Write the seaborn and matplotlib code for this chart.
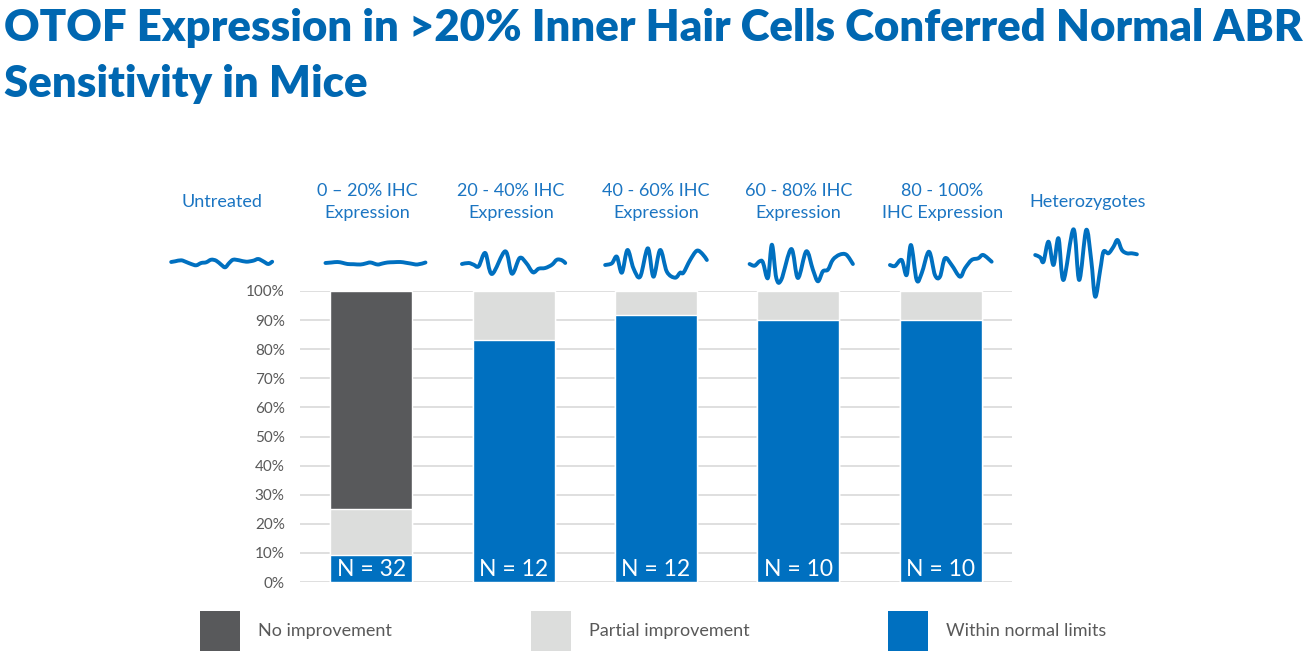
import numpy as np
import pandas as pd
import matplotlib
matplotlib.use("Agg")
import matplotlib.pyplot as plt
import matplotlib.transforms as mtransforms
from matplotlib.patches import Patch, PathPatch
from matplotlib.path import Path
import seaborn as sns

# ---------------- data ----------------
groups = ["0-20", "20-40", "40-60", "60-80", "80-100"]
n_labels = ["N = 32", "N = 12", "N = 12", "N = 10", "N = 10"]
within_normal = [9.4, 83.3, 91.7, 90.0, 90.0]
partial = [15.6, 16.7, 8.3, 10.0, 10.0]
no_improvement = [75.0, 0.0, 0.0, 0.0, 0.0]

column_labels = ["Untreated", "0 \u2013 20% IHC\nExpression", "20 - 40% IHC\nExpression",
                 "40 - 60% IHC\nExpression", "60 - 80% IHC\nExpression",
                 "80 - 100%\nIHC Expression", "Heterozygotes"]
legend_labels = ["No improvement", "Partial improvement", "Within normal limits"]
yticks = [0, 10, 20, 30, 40, 50, 60, 70, 80, 90, 100]

# ABR waveform traces (x offset px, amplitude px)
wave_untreated_x = [0, 4, 10, 15, 20, 25, 30, 35, 40, 45, 50, 54, 58, 62, 68, 75, 82, 87, 92, 97, 101]
wave_untreated_y = [0, 0.7, 1.7, 0, -2, -3.3, -1, -0.3, 2.3, 1.3, -2.7, -5.3, -1, 2.3, 1.7, 0.3, 1.3, 3, 0.7, -2, 0.3]
wave_0_20_x = [0, 6, 12, 17, 22, 28, 35, 40, 45, 52, 57, 62, 68, 75, 80, 85, 92, 100]
wave_0_20_y = [0, 0.5, 1, 0.2, -1, -1.2, -1.5, -0.5, 0.5, -1.5, -0.5, 0.5, 0.8, 1, 0.3, -0.5, -1.5, 0.5]
wave_20_40_x = [0, 6.7, 11.7, 16.7, 23.3, 30, 43.3, 50, 57.7, 64.3, 71, 76.7, 83.3, 90, 95, 100, 103.3]
wave_20_40_y = [0, 1, -0.7, -2.3, 11, -10, 12.7, -9.7, 6, 1, -8.3, -4.7, -4, -0.7, 4.3, 3.7, 1]
wave_40_60_x = [0, 6.7, 11.7, 16.7, 22.3, 28.3, 35, 42.7, 48.3, 55, 61.7, 70, 75, 78.3, 85, 91.7, 97.3, 101.7]
wave_40_60_y = [0, 1.7, 8.3, -7.7, 15, -3.3, -11.7, 16.7, -11.7, 15, -6.7, -12.7, -7.7, -7.7, 5, 14.3, 11, 5]
wave_60_80_x = [0, 5, 10, 13.3, 18.3, 22.3, 26.7, 31.7, 41.7, 48.3, 56.7, 63.3, 68.3, 73.3, 78.3, 83.3, 90, 96.7, 103.3]
wave_60_80_y = [0, -1.7, 2.7, 1.7, -14, 19.3, -14, -15.7, 15, -14, 12.7, -5.7, -17.3, -7.3, -5.7, 4.3, 9.3, 9.3, 0]
wave_80_100_x = [0, 5, 11.7, 16.7, 21, 26.7, 31.7, 39, 45, 50, 55, 61.7, 70, 75, 81.7, 88.3, 93.3, 101.7]
wave_80_100_y = [0, -1, 5, -10, 20, -15, -8.3, 13.3, -10, -11.7, 6.7, 0, -11.7, -3.3, 5, 6.7, 10, 3.3]
wave_het_x = [0, 5, 8.3, 13.3, 18.3, 23.3, 28.3, 38.3, 44, 51, 56, 60, 65, 68.3, 73.3, 78.3, 82.3, 86.7, 91.7, 96.7, 101.7]
wave_het_y = [0, -2.3, -6.7, 13.3, -10, 16.7, -25, 25.7, -25, 25, -5, -41.7, -15, 3.3, 1.7, 8.3, 15, 5, 1.7, 1.7, 0.7]

# ---------------- style ----------------
sns.set_theme(style="white")
plt.rcParams["font.family"] = ["Lato", "DejaVu Sans"]

C_DARK = "#58595B"
C_LIGHT = "#DCDDDC"
C_BLUE = "#0070C0"
C_TEXT_BLUE = "#1B75C2"
C_TITLE = "#0067B1"
C_GRAY_TXT = "#595959"

fig = plt.figure(figsize=(13.12, 6.64), dpi=100)
ax = fig.add_axes([300 / 1312, 82 / 664, 712 / 1312, 291 / 664])

df = pd.DataFrame({
    "group": groups,
    "total": [a + b + c for a, b, c in zip(within_normal, partial, no_improvement)],
    "partial_cum": [a + b for a, b in zip(within_normal, partial)],
    "within": within_normal,
})

bw = 0.575
sns.barplot(data=df, x="group", y="total", order=groups, color=C_DARK, width=bw,
            saturation=1, ax=ax, zorder=2)
sns.barplot(data=df, x="group", y="partial_cum", order=groups, color=C_LIGHT, width=bw,
            saturation=1, ax=ax, zorder=3)
sns.barplot(data=df, x="group", y="within", order=groups, color=C_BLUE, width=bw,
            saturation=1, ax=ax, zorder=4)

ax.set_xlim(-0.5, 4.5)
ax.set_ylim(0, 100)
ax.set_yticks(yticks)
ax.set_yticklabels([f"{t}%" for t in yticks])
ax.tick_params(axis="y", length=0, pad=11, labelsize=11, labelcolor=C_GRAY_TXT)
ax.set_xticks([])
ax.set_xlabel("")
ax.set_ylabel("")
ax.grid(axis="y", color="#D9D9D9", linewidth=1.2, zorder=0)
ax.set_axisbelow(True)
for s in ax.spines.values():
    s.set_visible(False)

for i, lab in enumerate(n_labels):
    ax.text(i, 4.4, lab, ha="center", va="center", color="white", fontsize=16.5, zorder=6)

# column header labels
col_pos = [-1.05, -0.03, 0.98, 2.0, 3.0, 4.01, 5.03]
trans = mtransforms.blended_transform_factory(ax.transData, fig.transFigure)
for x, lab in zip(col_pos, column_labels):
    ax.text(x, 1 - 202 / 664, lab, transform=trans, ha="center", va="center",
            color=C_TEXT_BLUE, fontsize=13, linespacing=1.45, clip_on=False)

# waveform traces (drawn as smooth Bezier curves through the read points)
wax = fig.add_axes([300 / 1312, (664 - 310) / 664, 712 / 1312, 100 / 664])
wax.set_xlim(-0.5, 4.5)
wax.set_ylim(310, 210)
wax.axis("off")
px_per_cat = 712 / 5


def smooth_path(px, py):
    pts = np.column_stack([px, py])
    ext = np.vstack([pts[0], pts, pts[-1]])
    verts = [pts[0]]
    codes = [Path.MOVETO]
    for i in range(len(pts) - 1):
        p0, p1, p2, p3 = ext[i], ext[i + 1], ext[i + 2], ext[i + 3]
        c1 = p1 + (p2 - p0) / 6.0
        c2 = p2 - (p3 - p1) / 6.0
        verts += [c1, c2, p2]
        codes += [Path.CURVE4] * 3
    return Path(verts, codes)


traces = [
    (wave_untreated_x, wave_untreated_y, -1.05, 262),
    (wave_0_20_x, wave_0_20_y, 0.03, 263),
    (wave_20_40_x, wave_20_40_y, 1.0, 264),
    (wave_40_60_x, wave_40_60_y, 2.0, 265),
    (wave_60_80_x, wave_60_80_y, 3.02, 264),
    (wave_80_100_x, wave_80_100_y, 4.0, 265),
    (wave_het_x, wave_het_y, 5.02, 255),
]
for xs, ys, c, base in traces:
    xs = np.asarray(xs, float)
    ys = np.asarray(ys, float)
    xx = c + (xs - xs[-1] / 2) / px_per_cat
    patch = PathPatch(smooth_path(xx, base - ys), facecolor="none", edgecolor=C_BLUE,
                      lw=2.8, joinstyle="round", capstyle="round", clip_on=False)
    wax.add_patch(patch)

# title
fig.text(0.003, 1 - 8 / 664,
         "OTOF Expression in >20% Inner Hair Cells Conferred Normal ABR\nSensitivity in Mice",
         ha="left", va="top", color=C_TITLE, fontsize=31.5, fontweight="heavy", linespacing=1.5)

# legend
handles = [Patch(facecolor=c, edgecolor="none") for c in (C_DARK, C_LIGHT, C_BLUE)]
leg = fig.legend(handles, legend_labels, loc="center left",
                 bbox_to_anchor=(184 / 1312, 1 - 631 / 664), ncol=3, frameon=False,
                 fontsize=13, handlelength=2.2, handleheight=3.0, handletextpad=1.0,
                 columnspacing=7.7, labelcolor=C_GRAY_TXT)

fig.savefig("out.png", dpi=100)
